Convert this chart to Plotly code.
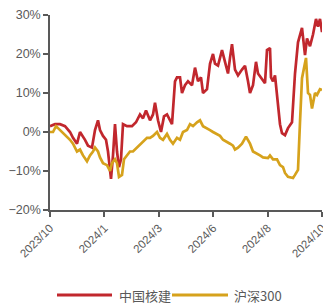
import plotly.graph_objects as go

# day index (trading-day position along the category-like x axis)
red_day = [0, 5, 10, 15, 20, 23, 27, 30, 35, 38, 42, 45, 48, 50, 53, 56, 58, 61, 63, 65, 67, 69, 71, 73,
           77, 82, 86, 90, 93, 96, 100, 103, 105, 108, 111, 114, 117, 120, 122, 125, 127, 130, 132, 135,
           138, 142, 145, 148, 151, 153, 157, 160, 163, 165, 168, 170, 172, 175, 178, 180, 182, 185, 188,
           192, 195, 198, 200, 203, 206, 208, 212, 215, 217, 220, 221, 223, 225, 228, 230, 232, 235, 238,
           242, 245, 248, 252, 255, 257, 260, 263, 266, 268, 270, 272]
red_val = [1.5, 2, 2, 1.5, 0, -1.5, -3, 0, -2, -3.5, -4, 0.5, 3, 0.5, -1, -2, -5, -12, -6, 2, -5, -9, -7, 2,
           1.5, 1.5, 2.5, 4.5, 3.5, 5.5, 3, 4.5, 7.5, 3, 0, 4, 4.5, 3, 2, 13, 14, 14, 10, 12,
           13, 12, 16.5, 13, 14, 10, 11, 17.5, 20, 17.5, 17, 19, 21, 18, 15, 19, 22.5, 16, 14.5,
           16, 17, 13, 10, 12, 18, 15, 13.5, 12.5, 21, 21.5, 14, 13, 14.5, 7, 2, -0.3, -0.8, 1,
           2.5, 15, 23, 26.7, 19.7, 24, 22, 25, 29, 27, 29, 25.6]

gold_day = [0, 3, 6, 10, 13, 17, 20, 23, 27, 30, 33, 37, 40, 43, 45, 48, 50, 53, 57, 60, 62, 65, 67, 69,
            72, 74, 77, 80, 83, 87, 90, 93, 97, 100, 103, 107, 110, 113, 117, 120, 123, 127, 130, 133,
            137, 140, 143, 147, 150, 153, 157, 160, 163, 167, 170, 173, 177, 180, 183, 185, 188, 192,
            196, 200, 203, 207, 210, 213, 218, 220, 223, 227, 230, 233, 235, 238, 243, 245, 248, 250,
            252, 256, 258, 260, 262, 265, 267, 270, 272]
gold_val = [0, 0, 1.5, 0.5, 0, -1, -2, -3, -5, -4.5, -6, -7.5, -6, -5, -4, -5, -6.5, -8, -8.5, -10, -8, -7,
            -8, -11.5, -11, -7, -6, -5, -5, -4, -3, -2.5, -1.5, -1.5, -1, 0, -1.5, -2, -0.5, -2,
            -3, -1.5, -2, 0, 0.5, 2, 1.5, 2.5, 3, 1.5, 1, 0.5, 0, -0.5, -1, -2, -2.5, -3, -3.5,
            -4.5, -4, -3, -1.2, -3, -5, -5.5, -6, -6.5, -6.7, -6, -7, -7, -8.5, -9, -10.5, -11.5,
            -11.8, -11, -9.7, 2.5, 13.8, 19, 10, 9.5, 6, 10, 9.5, 11, 10.8]

series_names = ["中国核建", "沪深300"]
tick_pos = [0, 54.4, 108.8, 163.2, 217.6, 272]
tick_text = ["2023/10", "2024/1", "2024/3", "2024/6", "2024/8", "2024/10"]
y_ticks = [-20, -10, 0, 10, 20, 30]
y_text = ["\u221220%", "\u221210%", "0%", "10%", "20%", "30%"]

RED = "#C1272D"
GOLD = "#D6A21C"
GREY = "#595959"
FONT = "Liberation Sans, Arial, Noto Sans CJK SC"
CJK = "Noto Sans CJK SC, Liberation Sans"

fig = go.Figure()
fig.add_trace(go.Scatter(x=red_day, y=red_val, mode="lines", name=series_names[0],
                         line=dict(color=RED, width=2.7), showlegend=False))
fig.add_trace(go.Scatter(x=gold_day, y=gold_val, mode="lines", name=series_names[1],
                         line=dict(color=GOLD, width=2.7), showlegend=False))

# manual legend (lines as shapes, labels as real text)
W, H = 323, 307
def px(x):
    return (x - 50) / 272.0
def py(y):
    return (210 - y) / 195.0

legend_items = [(57, 112, 117, RED, series_names[0]), (172, 228, 232, GOLD, series_names[1])]
for x0, x1, xt, col, name in legend_items:
    fig.add_shape(type="line", xref="paper", yref="paper", x0=px(x0), x1=px(x1),
                  y0=py(295), y1=py(295), line=dict(color=col, width=3))
    fig.add_annotation(xref="paper", yref="paper", x=px(xt), y=py(295), text=name,
                       showarrow=False, xanchor="left", yanchor="middle",
                       font=dict(family=CJK, size=13, color=GREY))

fig.update_layout(
    width=W, height=H,
    margin=dict(l=50, r=1, t=15, b=97),
    plot_bgcolor="white", paper_bgcolor="white",
    font=dict(family=FONT, color=GREY, size=12),
    showlegend=False,
    xaxis=dict(range=[0, 272], tickvals=tick_pos, ticktext=tick_text, tickangle=-45,
               showgrid=False, zeroline=False, showline=True, linecolor=GREY, linewidth=1.5,
               ticks="outside", ticklen=5, tickcolor=GREY, tickwidth=1.5, automargin=False,
               ticklabeloverflow="allow",
               tickfont=dict(size=11.5, color=GREY), fixedrange=True),
    yaxis=dict(range=[-20, 30], tickvals=y_ticks, ticktext=y_text, automargin=False,
               showgrid=False, zeroline=False, showline=True, linecolor=GREY, linewidth=1.5,
               ticks="outside", ticklen=5, tickcolor=GREY, tickwidth=1.5,
               tickfont=dict(size=12.5, color=GREY), fixedrange=True),
)

fig.write_html("out.html", config={"displayModeBar": False},
               post_script="document.body.style.margin='0';document.body.style.overflow='hidden';")
